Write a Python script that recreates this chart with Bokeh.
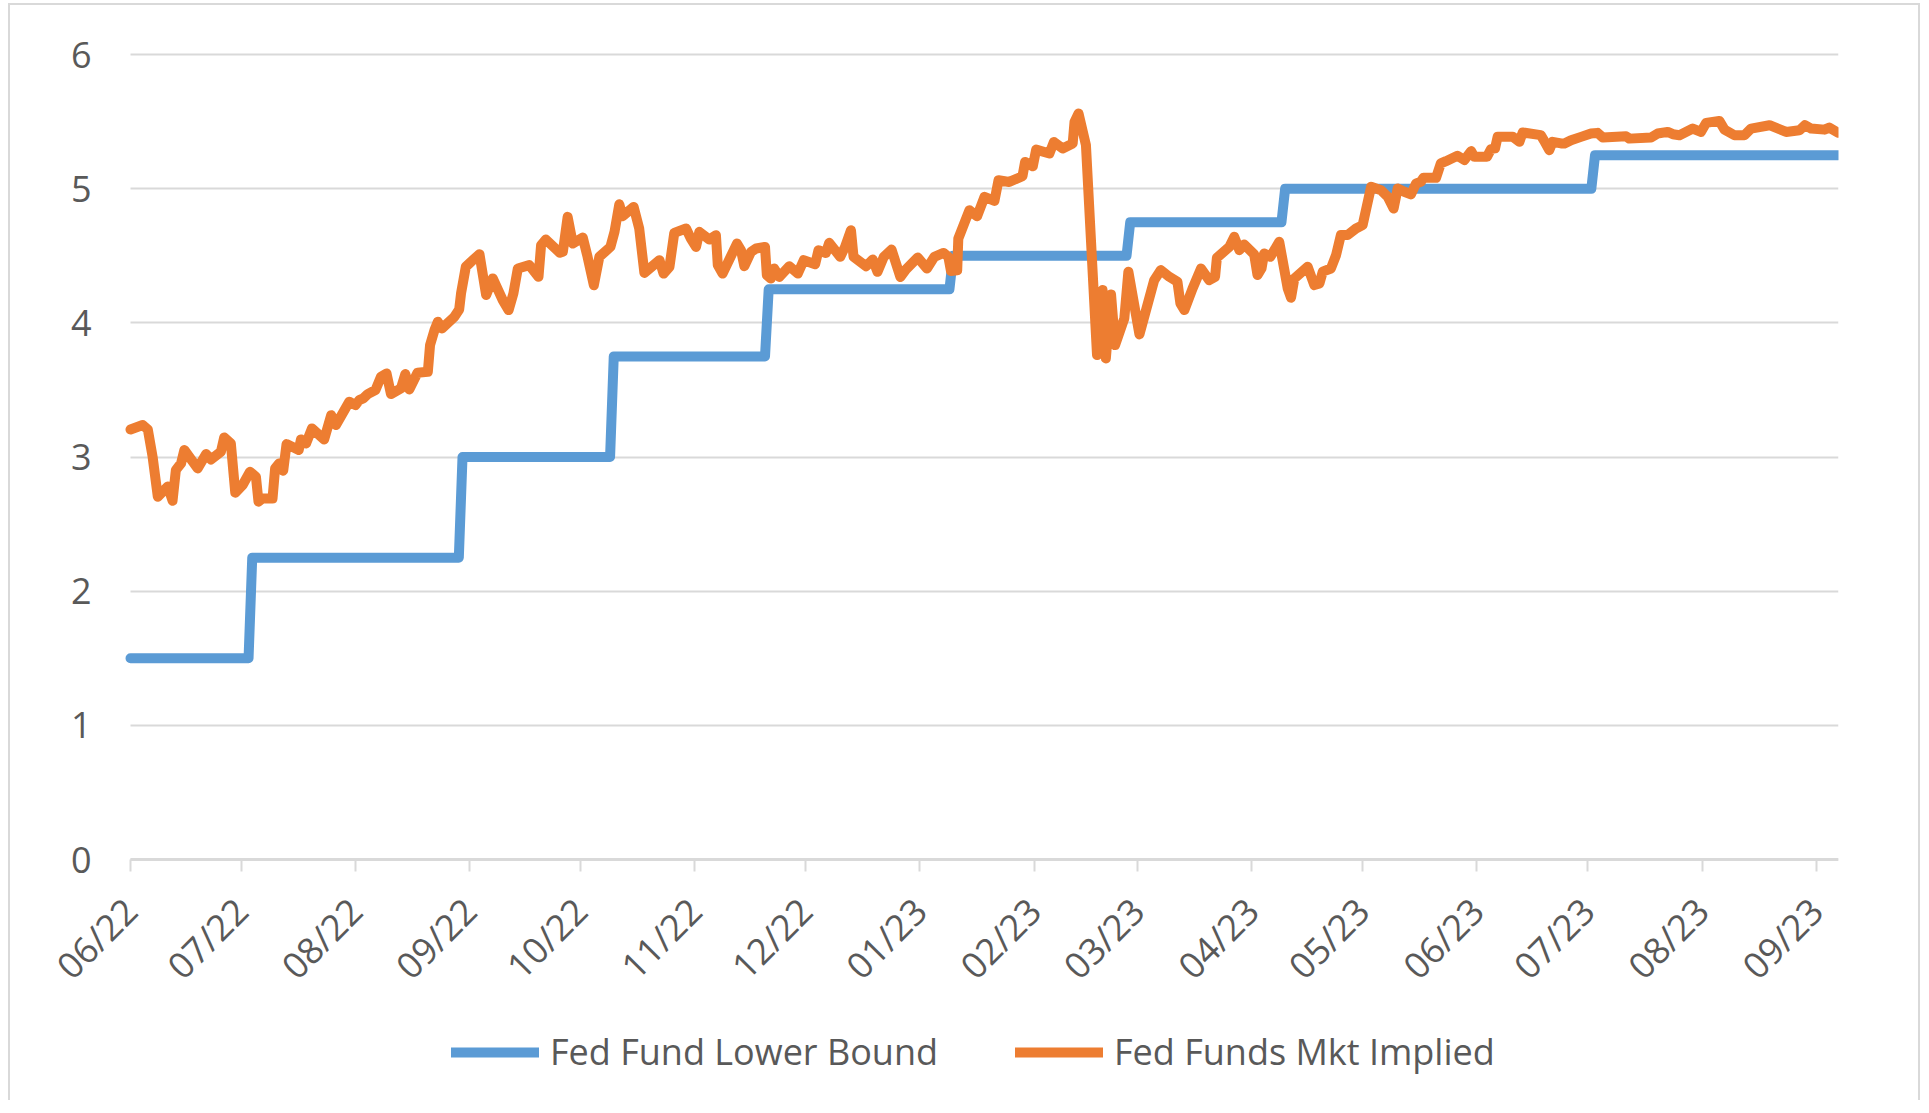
import math
import pandas as pd
from bokeh.plotting import figure
from bokeh.models import (ColumnDataSource, FixedTicker, Legend, LegendItem, Range1d)
from bokeh.embed import file_html
from bokeh.resources import INLINE

# ---------------- data ----------------
start_date = "2022-06-01"
end_date = "2023-09-07"

month_ticks = ["2022-06-01", "2022-07-01", "2022-08-01", "2022-09-01", "2022-10-01",
               "2022-11-01", "2022-12-01", "2023-01-01", "2023-02-01", "2023-03-01",
               "2023-04-01", "2023-05-01", "2023-06-01", "2023-07-01", "2023-08-01",
               "2023-09-01"]
month_labels = ["06/22", "07/22", "08/22", "09/22", "10/22", "11/22", "12/22", "01/23",
                "02/23", "03/23", "04/23", "05/23", "06/23", "07/23", "08/23", "09/23"]

y_ticks = [0, 1, 2, 3, 4, 5, 6]

# Fed Fund Lower Bound (step corners)
bound_dates = ["2022-06-01", "2022-07-03", "2022-07-04", "2022-08-29", "2022-08-30",
               "2022-10-09", "2022-10-10", "2022-11-20", "2022-11-21", "2023-01-09",
               "2023-01-10", "2023-02-26", "2023-02-27", "2023-04-09", "2023-04-10",
               "2023-07-02", "2023-07-03", "2023-09-07"]
bound_vals = [1.5, 1.5, 2.25, 2.25, 3.0, 3.0, 3.75, 3.75, 4.25, 4.25, 4.5, 4.5,
              4.75, 4.75, 5.0, 5.0, 5.25, 5.25]

# Fed Funds Mkt Implied: days after start_date, value
mkt_days = [0.0, 3.3, 4.7, 6.0, 7.4, 10.1, 11.4, 12.3, 13.7, 14.6, 18.2, 20.5, 21.8, 24.5,
            25.4, 27.2, 28.4, 30.4, 32.4, 34.0, 34.7, 35.8, 38.5, 39.2, 40.3, 41.4, 42.3,
            45.6, 46.2, 47.6, 49.2, 52.5, 54.4, 55.7, 59.3, 61.0, 62.0, 63.1, 64.3, 66.4,
            67.9, 69.4, 70.6, 73.3, 74.5, 75.6, 77.8, 80.6, 81.2, 82.4, 83.3, 84.4, 87.8,
            89.1, 89.6, 90.9, 92.8, 94.6, 96.4, 98.2, 100.9, 102.5, 103.8, 105.0, 108.1,
            110.6, 111.3, 112.6, 116.4,
            117.2, 118.5, 119.9, 122.6, 123.9, 125.6, 127.1, 130.1, 131.2, 132.5, 133.4,
            136.4, 137.9, 139.3, 143.4, 144.5, 146.1, 147.4, 150.6, 151.9, 153.3, 154.2,
            156.9, 158.7, 159.2, 160.5, 164.4, 165.5, 166.4, 168.2, 169.6, 172.0, 172.5,
            173.6, 174.5, 175.9, 178.6, 180.9, 182.5, 185.6, 186.5, 188.5, 189.4, 192.4,
            193.7, 195.3, 196.0, 199.4, 201.2, 202.5, 204.2, 206.3, 208.7, 210.2, 213.4,
            215.9, 217.9, 220.4, 221.7, 222.4, 224.1, 224.4, 227.4, 229.5, 231.5, 234.2,
            235.3, 238.2, 241.8, 242.5, 244.6, 245.5, 249.1, 250.3, 252.7, 255.4, 255.9,
            257.0,
            259.0, 262.0, 263.5, 264.4, 265.8, 266.9, 269.4, 270.5, 273.5, 277.5, 279.3,
            281.6, 283.8, 284.6, 285.7, 287.9, 290.2, 292.4, 294.0, 294.5, 297.9, 299.2,
            300.6, 301.9, 304.6, 305.5, 306.6, 307.3, 309.0, 311.4, 313.7, 314.6, 315.5,
            319.1, 320.9, 322.3, 323.2, 325.4, 326.8, 328.1, 329.9, 332.2, 334.0, 336.3,
            339.0, 340.8, 342.4, 343.5, 345.3, 347.1, 348.5, 349.8, 350.5, 353.9, 355.2,
            356.6, 359.7, 361.6, 363.4, 364.3, 367.7, 368.8, 369.9, 370.6, 374.7, 376.5,
            377.4, 382.3, 383.1, 384.6, 385.5, 387.8,
            388.7, 390.5, 393.2, 395.9, 397.7, 399.1, 405.4, 406.3, 412.2, 414.0, 416.7,
            418.1, 419.9, 423.5, 425.7, 427.1, 430.7, 432.1, 434.8, 437.5, 439.3, 444.3,
            448.8, 452.4, 453.9, 455.6, 459.2, 460.5, 463.0]
mkt_vals = [3.205, 3.238, 3.205, 3.00, 2.704, 2.78, 2.674, 2.903, 2.952, 3.052, 2.915, 3.022,
            2.982, 3.039, 3.146, 3.101, 2.734, 2.791, 2.890, 2.853, 2.667, 2.691, 2.691,
            2.915, 2.952, 2.898, 3.096, 3.052, 3.131, 3.101, 3.213, 3.131, 3.312, 3.238,
            3.412, 3.387, 3.424, 3.437, 3.469, 3.499, 3.598, 3.623, 3.469, 3.511, 3.618,
            3.504, 3.628, 3.635, 3.834, 3.946, 4.008, 3.958, 4.045, 4.100, 4.219, 4.418,
            4.467, 4.512, 4.207, 4.331, 4.169, 4.095, 4.219, 4.405, 4.430, 4.343, 4.579,
            4.621, 4.522,
            4.529, 4.790, 4.591, 4.636, 4.492, 4.280, 4.492, 4.566, 4.678, 4.884, 4.795,
            4.864, 4.703, 4.372, 4.467, 4.367, 4.417, 4.670, 4.703, 4.628, 4.566, 4.678,
            4.621, 4.653, 4.430, 4.367, 4.591, 4.541, 4.422, 4.529, 4.554, 4.566, 4.355,
            4.330, 4.405, 4.342, 4.422, 4.367, 4.467, 4.437, 4.541, 4.521, 4.596, 4.492,
            4.566, 4.690, 4.492, 4.422, 4.472, 4.380, 4.492, 4.546, 4.342, 4.397, 4.487,
            4.405, 4.492, 4.521, 4.492, 4.387, 4.392, 4.628, 4.839, 4.795, 4.939, 4.909,
            5.063, 5.050, 5.093, 5.199, 5.167, 5.291, 5.262, 5.348, 5.299, 5.336, 5.498,
            5.560,
            5.324, 3.760, 4.244, 3.735, 4.212, 3.834, 4.033, 4.381, 3.914, 4.318, 4.393,
            4.343, 4.306, 4.145, 4.095, 4.256, 4.405, 4.318, 4.343, 4.485, 4.567, 4.641,
            4.542, 4.584, 4.510, 4.356, 4.405, 4.517, 4.492, 4.604, 4.256, 4.187, 4.331,
            4.418, 4.281, 4.294, 4.381, 4.405, 4.505, 4.654, 4.654, 4.703, 4.728, 5.014,
            4.989, 4.939, 4.852, 5.002, 4.977, 4.957, 5.039, 5.051, 5.081, 5.081, 5.188,
            5.205, 5.245, 5.213, 5.280, 5.237, 5.237, 5.295, 5.300, 5.387, 5.387, 5.349,
            5.419, 5.399, 5.362, 5.287, 5.349, 5.337,
            5.336, 5.361, 5.386, 5.411, 5.416, 5.381, 5.391, 5.373, 5.381, 5.411, 5.423,
            5.406, 5.398, 5.448, 5.423, 5.490, 5.505, 5.440, 5.398, 5.398, 5.448, 5.473,
            5.423, 5.435, 5.473, 5.448, 5.440, 5.455, 5.416]

# ---------------- styling ----------------
FONT = "Open Sans"
TXT = "#595959"
GRID = "#d9d9d9"
BLUE = "#5B9BD5"
ORANGE = "#ED7D31"

t0 = pd.Timestamp(start_date)
bound_src = ColumnDataSource(dict(x=pd.to_datetime(bound_dates), y=bound_vals))
mkt_src = ColumnDataSource(dict(x=t0 + pd.to_timedelta(mkt_days, unit="D"), y=mkt_vals))

def ms(d):
    return pd.Timestamp(d).value / 1e6

# layout: plot area 1708 px wide x 805 px tall (0..6); the frame is widened to the
# left, top and bottom so the axis labels and the legend sit inside it
PLOT_W, PLOT_H = 1708, 805
PAD_L, PAD_B, PAD_T = 90, 240, 30
x0, x1 = ms(start_date), ms(end_date)
x_start = x0 - PAD_L * (x1 - x0) / PLOT_W
y_start = -PAD_B * 6 / PLOT_H
y_end = 6 + PAD_T * 6 / PLOT_H

p = figure(frame_width=PLOT_W + PAD_L, frame_height=PLOT_H + PAD_B + PAD_T,
           x_axis_type="datetime",
           x_range=Range1d(x_start, x1), y_range=Range1d(y_start, y_end),
           output_backend="svg", toolbar_location=None,
           min_border_left=30, min_border_right=80, min_border_top=49 - PAD_T,
           min_border_bottom=1)
p.styles = {"border-top": "2px solid #d9d9d9", "border-left": "2px solid #d9d9d9",
            "border-right": "2px solid #d9d9d9", "margin-left": "8px",
            "margin-top": "3px"}
p.outline_line_color = None
p.background_fill_color = "white"
p.border_fill_color = "white"

# horizontal grid lines, limited to the plot area
p.xgrid.visible = False
ygrid = p.ygrid[0]
ygrid.ticker = FixedTicker(ticks=y_ticks)
ygrid.grid_line_color = GRID
ygrid.grid_line_width = 2
if "cross_bounds" in ygrid.properties():
    ygrid.cross_bounds = (x0, x1)
else:
    ygrid.visible = False
    p.segment(x0=[x0] * len(y_ticks), x1=[x1] * len(y_ticks), y0=y_ticks, y1=y_ticks,
              line_color=GRID, line_width=2)

r_bound = p.line("x", "y", source=bound_src, line_color=BLUE, line_width=10,
                 line_join="round", line_cap="round")
r_mkt = p.line("x", "y", source=mkt_src, line_color=ORANGE, line_width=10,
               line_join="round", line_cap="round")

# x axis, drawn at y = 0
tick_vals = [ms(d) for d in month_ticks]
xax = p.xaxis[0]
xax.fixed_location = 0
xax.bounds = (x0, x1)
xax.ticker = FixedTicker(ticks=tick_vals)
xax.major_label_overrides = {v: lab for v, lab in zip(tick_vals, month_labels)}
xax.major_label_orientation = math.pi / 4
xax.axis_line_color = GRID
xax.axis_line_width = 3
xax.major_tick_line_color = GRID
xax.major_tick_line_width = 2
xax.major_tick_out = 12
xax.major_tick_in = 0
xax.minor_tick_line_color = None
xax.major_label_text_font = FONT
xax.major_label_text_font_size = "36px"
xax.major_label_text_color = TXT
xax.major_label_standoff = 33

# y axis, drawn at the first date
yax = p.yaxis[0]
yax.fixed_location = x0
yax.ticker = FixedTicker(ticks=y_ticks)
yax.axis_line_color = None
yax.major_tick_line_color = None
yax.major_tick_out = 0
yax.major_tick_in = 0
yax.minor_tick_line_color = None
yax.major_label_text_font = FONT
yax.major_label_text_font_size = "36px"
yax.major_label_text_color = TXT
yax.major_label_standoff = 39

legend = Legend(items=[LegendItem(label="Fed Fund Lower Bound", renderers=[r_bound]),
                       LegendItem(label="Fed Funds Mkt Implied", renderers=[r_mkt])],
                orientation="horizontal", location=(PAD_L + 321, 23))
legend.label_text_font = FONT
legend.label_text_font_size = "36px"
legend.label_text_color = TXT
legend.glyph_width = 88
legend.glyph_height = 40
legend.label_standoff = 11
legend.spacing = 77
legend.padding = 0
legend.margin = 0
legend.border_line_color = None
legend.background_fill_alpha = 0
p.add_layout(legend, "center")

open("out.html", "w").write(file_html(p, INLINE))
